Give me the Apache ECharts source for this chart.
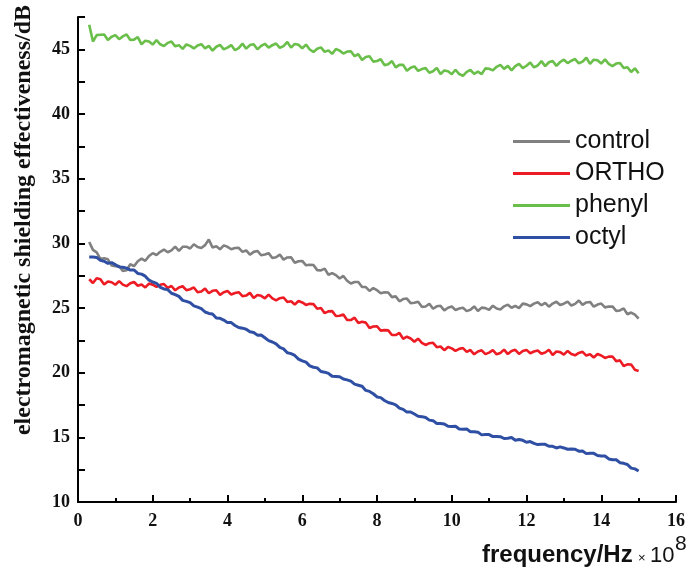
<!DOCTYPE html>
<html><head><meta charset="utf-8">
<script src="https://cdn.jsdelivr.net/npm/echarts@6/dist/echarts.min.js"></script>
<style>html,body{margin:0;padding:0;background:#fff}#c{width:688px;height:567px}</style>
</head><body><div id="c"></div>
<script>
// frequency (x 10^8 Hz)
const freq = [0.3,0.4,0.5,0.6,0.7,0.8,0.9,1.0,1.1,1.2,
  1.3,1.4,1.5,1.6,1.7,1.8,1.9,2.0,2.1,2.2,
  2.3,2.4,2.5,2.6,2.7,2.8,2.9,3.0,3.1,3.2,
  3.3,3.4,3.5,3.6,3.7,3.8,3.9,4.0,4.1,4.2,
  4.3,4.4,4.5,4.6,4.7,4.8,4.9,5.0,5.1,5.2,
  5.3,5.4,5.5,5.6,5.7,5.8,5.9,6.0,6.1,6.2,
  6.3,6.4,6.5,6.6,6.7,6.8,6.9,7.0,7.1,7.2,
  7.3,7.4,7.5,7.6,7.7,7.8,7.9,8.0,8.1,8.2,
  8.3,8.4,8.5,8.6,8.7,8.8,8.9,9.0,9.1,9.2,
  9.3,9.4,9.5,9.6,9.7,9.8,9.9,10.0,10.1,10.2,
  10.3,10.4,10.5,10.6,10.7,10.8,10.9,11.0,11.1,11.2,
  11.3,11.4,11.5,11.6,11.7,11.8,11.9,12.0,12.1,12.2,
  12.3,12.4,12.5,12.6,12.7,12.8,12.9,13.0,13.1,13.2,
  13.3,13.4,13.5,13.6,13.7,13.8,13.9,14.0,14.1,14.2,
  14.3,14.4,14.5,14.6,14.7,14.8,14.9,15.0];
const control = [30.1,29.49,29.3,28.8,28.84,28.76,28.28,28.23,28.24,27.87,
  27.92,28.38,28.24,28.61,28.82,28.65,29.02,29.24,29.1,29.34,
  29.52,29.31,29.46,29.75,29.42,29.73,29.74,29.6,29.93,29.72,
  29.64,29.86,30.3,29.68,29.77,29.54,29.84,29.73,29.54,29.64,
  29.65,29.34,29.45,29.12,29.34,29.41,29.08,29.13,29.24,28.87,
  28.92,29.13,28.74,28.91,28.92,28.5,28.62,28.64,28.3,28.34,
  28.32,27.93,27.91,28.05,27.57,27.7,27.54,27.28,27.48,27.11,
  26.89,27.01,27.01,26.62,26.62,26.32,26.54,26.38,26.14,26.22,
  26.2,25.84,25.9,25.52,25.69,25.73,25.38,25.4,25.49,25.09,
  25.12,25.33,24.94,25.13,25.17,24.82,25.02,25.11,24.85,24.96,
  25.02,24.76,24.86,25.12,24.77,25.03,24.99,24.85,25.18,24.96,
  24.89,25.13,25.26,25.02,25.17,24.99,25.34,25.28,25.14,25.34,
  25.45,25.21,25.4,25.1,25.34,25.48,25.23,25.33,25.49,25.19,
  25.32,25.58,25.24,25.43,25.47,25.1,25.27,25.34,25.05,25.11,
  25.12,24.78,24.81,24.97,24.52,24.65,24.49,24.18];
const ortho = [27.22,26.93,27.3,27.22,26.82,27.05,26.99,26.8,27.08,26.81,
  26.69,26.91,27.01,26.72,26.82,26.59,26.89,26.8,26.64,26.79,
  26.85,26.56,26.7,26.37,26.59,26.68,26.38,26.45,26.59,26.22,
  26.27,26.5,26.14,26.33,26.37,26.02,26.22,26.31,26.05,26.16,
  26.22,25.91,25.96,26.17,25.77,26.0,25.94,25.75,26.03,25.74,
  25.59,25.76,25.81,25.47,25.52,25.27,25.54,25.43,25.24,25.32,
  25.3,24.94,25.0,24.6,24.74,24.76,24.38,24.4,24.49,24.07,
  24.07,24.25,23.84,23.93,23.87,23.45,23.57,23.59,23.25,23.29,
  23.27,22.91,22.91,23.07,22.62,22.78,22.64,22.4,22.63,22.31,
  22.14,22.28,22.31,21.97,22.02,21.74,21.99,21.88,21.69,21.84,
  21.9,21.61,21.75,21.42,21.64,21.73,21.43,21.55,21.74,21.42,
  21.52,21.78,21.44,21.68,21.77,21.45,21.67,21.76,21.5,21.64,
  21.72,21.46,21.56,21.77,21.37,21.63,21.59,21.4,21.68,21.44,
  21.34,21.53,21.61,21.32,21.42,21.17,21.44,21.33,21.14,21.24,
  21.25,20.89,20.95,20.52,20.64,20.63,20.23,20.13];
const phenyl = [46.9,45.6,46.1,46.13,46.15,45.72,45.97,46.1,45.78,46.0,
  46.15,45.72,45.75,45.95,45.38,45.67,45.6,45.37,45.72,45.39,
  45.25,45.5,45.6,45.23,45.32,45.03,45.38,45.27,45.07,45.3,
  45.4,45.07,45.27,44.9,45.2,45.35,45.0,45.13,45.33,44.93,
  45.1,45.44,45.05,45.33,45.4,45.0,45.27,45.43,45.13,45.32,
  45.45,45.12,45.25,45.57,45.13,45.42,45.35,45.07,45.37,44.99,
  44.8,45.05,45.15,44.8,44.92,44.65,45.03,44.9,44.67,44.82,
  44.85,44.47,44.62,44.17,44.4,44.47,44.05,44.1,44.23,43.78,
  43.85,44.09,43.6,43.8,43.8,43.35,43.57,43.68,43.33,43.47,
  43.55,43.19,43.3,43.57,43.08,43.37,43.3,43.07,43.42,43.09,
  42.95,43.25,43.4,43.1,43.27,43.08,43.53,43.5,43.37,43.65,
  43.8,43.49,43.72,43.37,43.7,43.87,43.55,43.73,43.98,43.6,
  43.75,44.09,43.7,44.0,44.1,43.72,44.02,44.2,43.93,44.12,
  44.25,43.92,44.05,44.35,43.88,44.2,44.15,43.9,44.22,43.87,
  43.7,43.9,43.95,43.55,43.62,43.25,43.53,43.15];
const octyl = [28.94,28.94,28.91,28.68,28.61,28.45,28.51,28.35,28.18,28.15,
  28.08,27.93,27.94,27.67,27.62,27.46,27.15,27.01,26.91,26.6,
  26.47,26.42,26.14,26.04,25.9,25.59,25.51,25.41,25.16,25.07,
  24.95,24.69,24.58,24.53,24.23,24.2,24.07,23.87,23.87,23.65,
  23.49,23.44,23.36,23.16,23.11,22.9,22.91,22.7,22.48,22.37,
  22.23,21.95,21.84,21.54,21.47,21.33,21.05,20.91,20.81,20.53,
  20.42,20.37,20.09,20.04,19.95,19.72,19.71,19.68,19.51,19.44,
  19.35,19.11,19.03,18.95,18.63,18.55,18.37,18.12,18.07,17.85,
  17.69,17.62,17.51,17.26,17.16,16.95,16.96,16.8,16.63,16.6,
  16.53,16.33,16.29,16.07,16.07,16.03,15.85,15.84,15.86,15.65,
  15.62,15.64,15.44,15.44,15.4,15.19,15.21,15.21,15.06,15.07,
  15.05,14.91,14.93,14.98,14.78,14.83,14.77,14.62,14.67,14.53,
  14.44,14.47,14.46,14.31,14.31,14.18,14.26,14.18,14.08,14.1,
  14.08,13.93,13.94,13.74,13.77,13.76,13.6,13.56,13.56,13.33,
  13.27,13.27,13.04,12.99,12.9,12.62,12.56,12.4];
const seriesNames = ['control','ORTHO','phenyl','octyl'];
const seriesValues = [control, ortho, phenyl, octyl];
const colors = ['#808080','#ed1c24','#6abf4b','#2e4fa3'];
const lineWidths = [2.6, 2.6, 2.6, 3];

const chart = echarts.init(document.getElementById('c'), null, {renderer:'canvas'});
const serif = '"Liberation Serif","Times New Roman",serif';
const sans = '"Liberation Sans",Arial,sans-serif';
chart.setOption({
  animation:false,
  backgroundColor:'#fff',
  grid:{left:78,right:11,top:17,bottom:65,containLabel:false},
  legend:{
    orient:'vertical', left:513, top:129, itemWidth:57, itemHeight:3, icon:'rect',
    itemGap:7, padding:0,
    data:seriesNames,
    textStyle:{fontFamily:sans,fontSize:25,color:'#111'}
  },
  xAxis:{
    type:'value', min:0, max:16, interval:2,
    axisLine:{show:true,lineStyle:{color:'#000',width:2}},
    axisTick:{show:true,inside:true,length:7,lineStyle:{color:'#000',width:2}},
    minorTick:{show:true,splitNumber:2,length:4,lineStyle:{color:'#000',width:2}},
    splitLine:{show:false},
    axisLabel:{fontFamily:serif,fontWeight:'bold',fontSize:18,color:'#111',margin:10}
  },
  yAxis:{
    type:'value', min:10, max:47.5, interval:2.5,
    axisLine:{show:true,lineStyle:{color:'#000',width:2}},
    axisTick:{show:true,inside:true,length:7,lineStyle:{color:'#000',width:2}},
    splitLine:{show:false},
    axisLabel:{fontFamily:serif,fontWeight:'bold',fontSize:18,color:'#111',margin:8,
      formatter:v => (Math.abs(v % 5) < 1e-6 && v < 47) ? String(v) : ''}
  },
  graphic:[
    {type:'text', x:24, y:220, rotation:Math.PI/2,
      style:{text:'electromagnetic shielding effectiveness/dB', font:'bold 24px '+serif,
        fill:'#111', align:'center', verticalAlign:'middle'}},
    {type:'text', x:482, y:555,
      style:{text:'frequency/Hz', font:'bold 24px '+sans, fill:'#111', align:'left', verticalAlign:'middle'}},
    {type:'text', x:638, y:558,
      style:{text:'\u00d7', font:'13px '+sans, fill:'#111', align:'left', verticalAlign:'middle'}},
    {type:'text', x:650, y:556,
      style:{text:'10', font:'22px '+sans, fill:'#111', align:'left', verticalAlign:'middle'}},
    {type:'text', x:675, y:544,
      style:{text:'8', font:'21px '+sans, fill:'#111', align:'left', verticalAlign:'middle'}}
  ],
  series: seriesNames.map((n,i)=>({
    name:n, type:'line', symbol:'none', smooth:false,
    data: freq.map((f,j)=>[f, seriesValues[i][j]]),
    lineStyle:{color:colors[i], width:lineWidths[i]},
    itemStyle:{color:colors[i]},
    z: 2+i
  }))
});
</script>
</body></html>
